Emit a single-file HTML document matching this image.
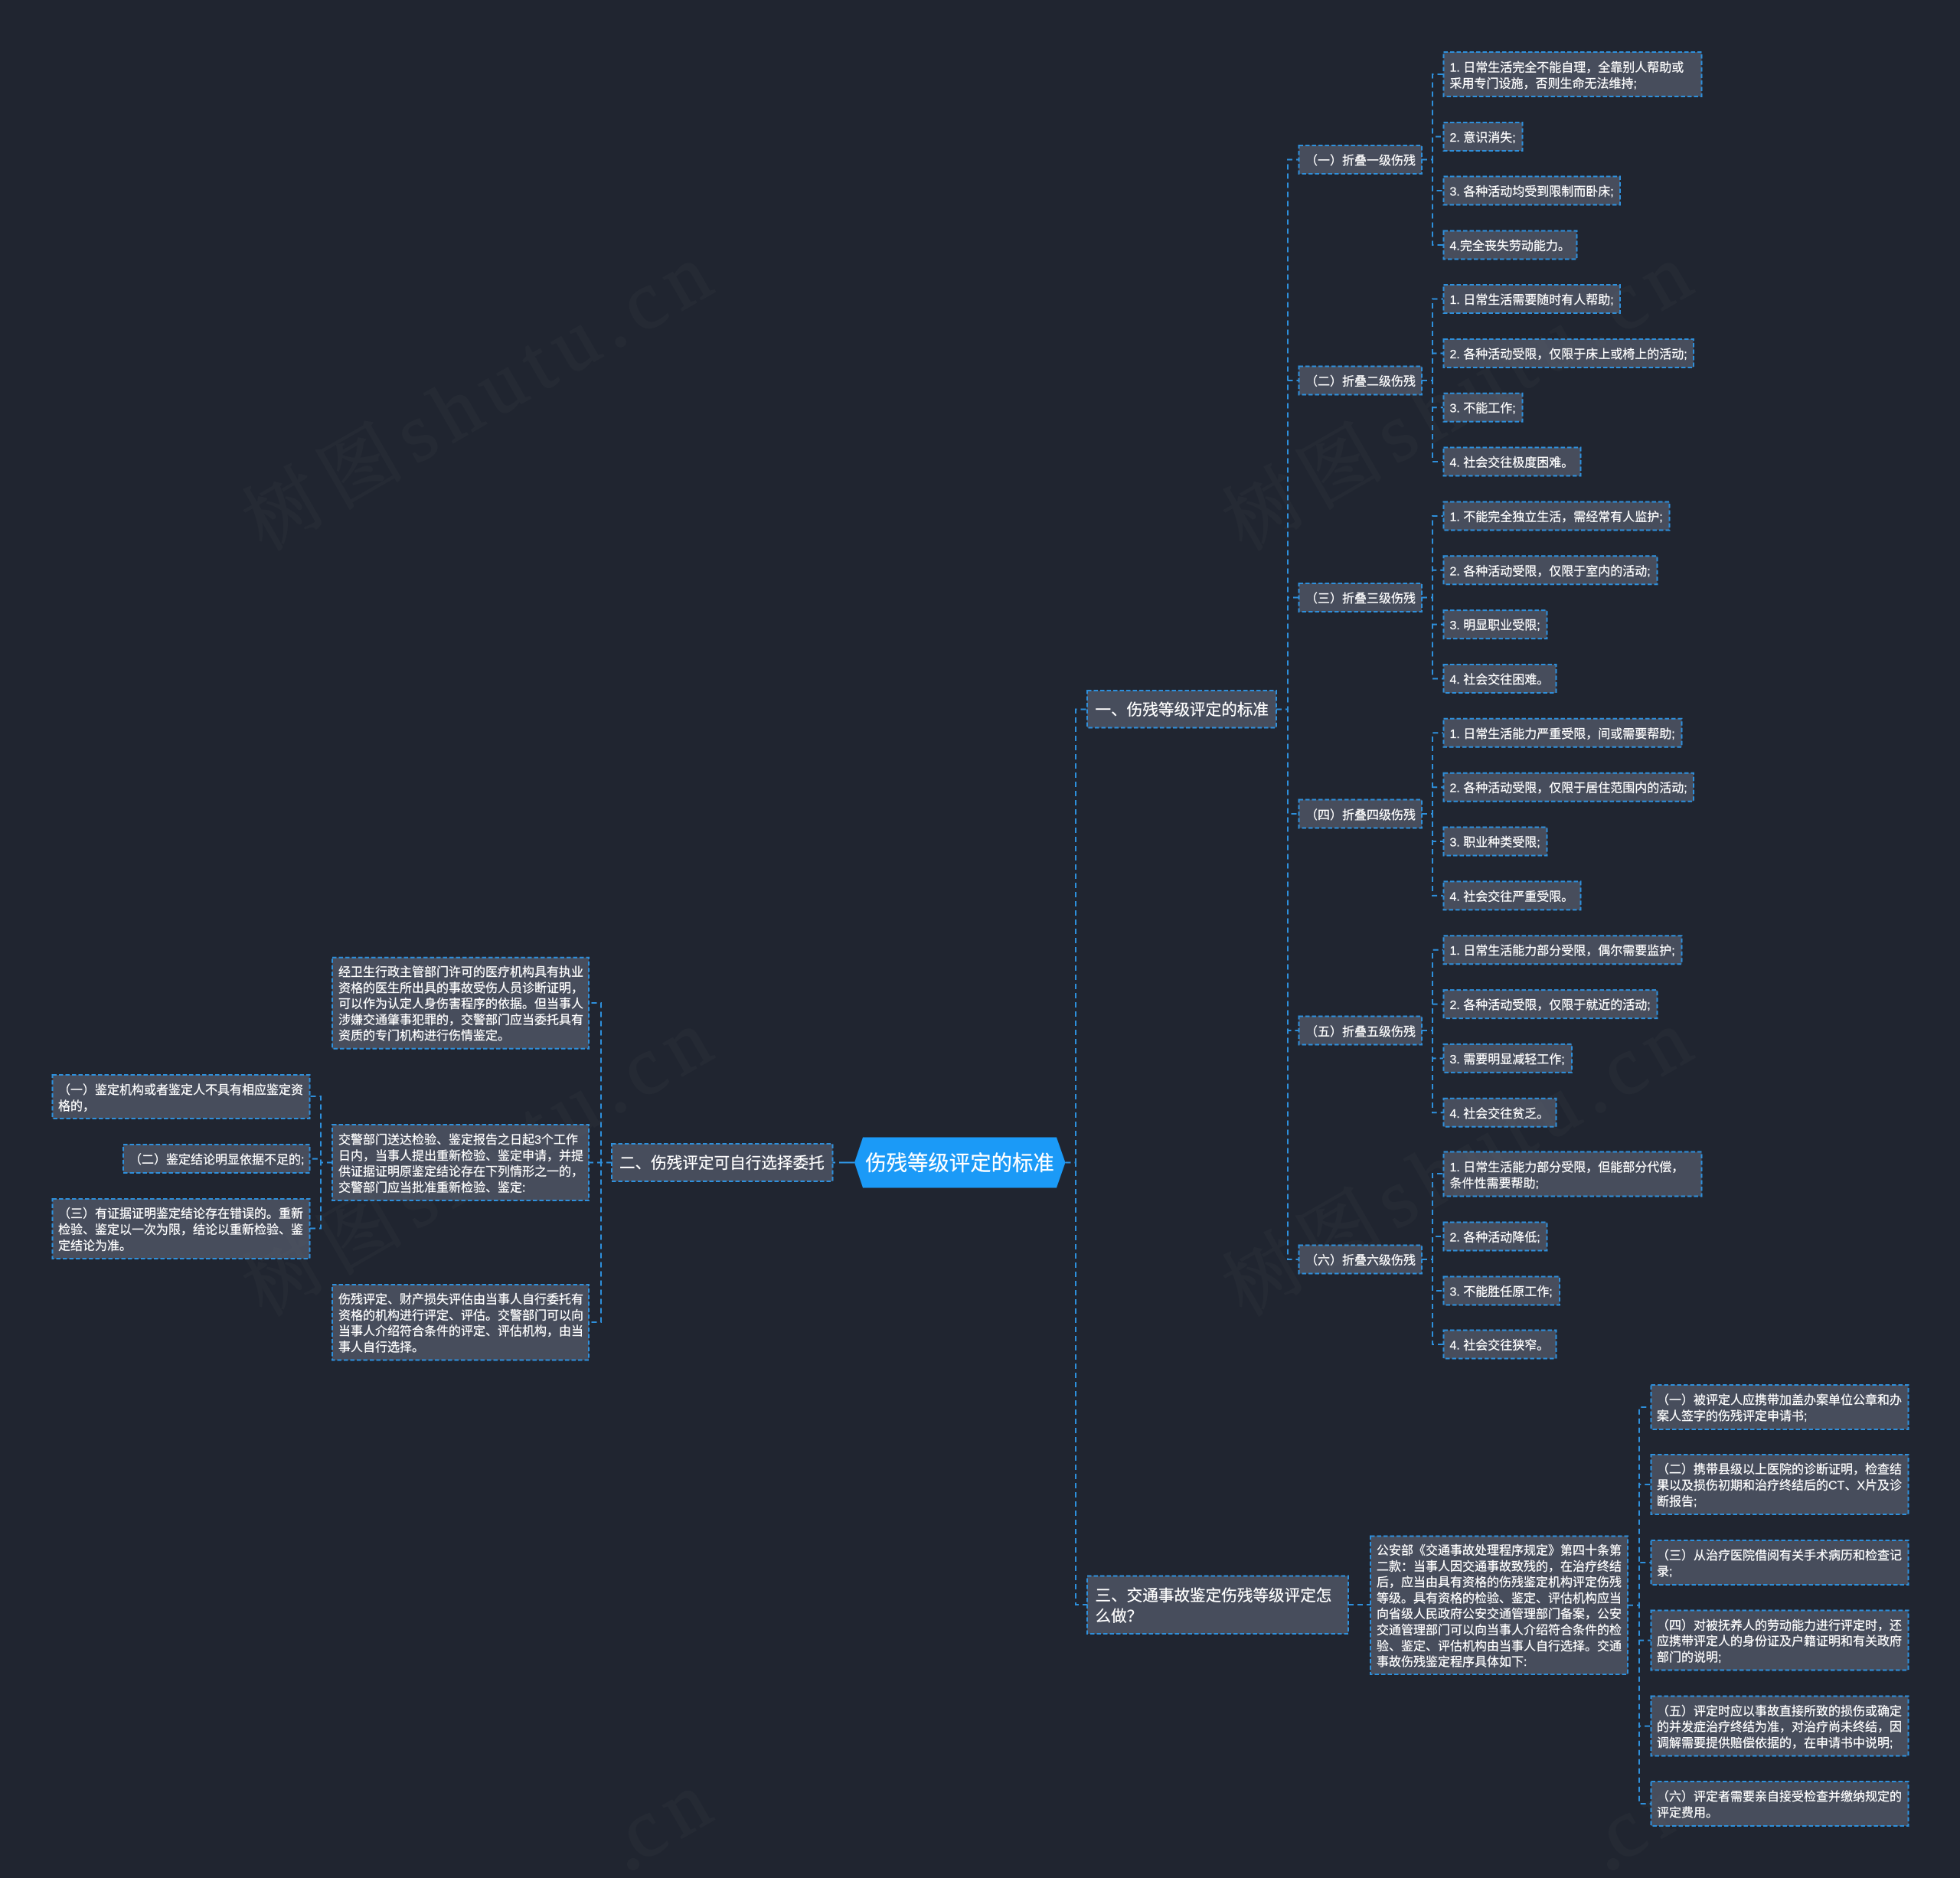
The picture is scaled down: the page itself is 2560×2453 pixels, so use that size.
<!DOCTYPE html>
<html lang="zh-CN"><head><meta charset="utf-8"><title>伤残等级评定的标准</title>
<style>
html,body{margin:0;padding:0;background:#202530;width:2560px;height:2453px;overflow:hidden}
svg{display:block}
text{font-family:"Liberation Sans","Noto Sans CJK SC",sans-serif;fill:#fff;stroke:#fff;stroke-width:.2px;font-size:16px}
text.l1{font-size:20.6px}
.b rect{fill:#474d5c;stroke:#2e90dc;stroke-width:2;stroke-dasharray:5.5 3}
.c{fill:none;stroke:#2e90dc;stroke-width:2;stroke-dasharray:7 5}
text.w{font-family:"Liberation Serif","Noto Serif CJK SC",serif;font-size:108px;letter-spacing:13px;fill:#6e6e6e;stroke:#6e6e6e;stroke-width:1.5px;opacity:.07}
text.w tspan{font-size:100px;letter-spacing:14px}
</style></head><body>
<svg xmlns="http://www.w3.org/2000/svg" width="2560" height="2453" viewBox="0 0 2560 2453">
<rect width="2560" height="2453" fill="#202530"/>
<path class="c" d="M1391.5 1518.5H1405V926.5H1420M1391.5 1518.5H1405V2096H1420
M1667 926.5H1682V208.5H1696M1667 926.5H1682V497H1696M1667 926.5H1682V780.5H1696M1667 926.5H1682V1063H1696M1667 926.5H1682V1346H1696M1667 926.5H1682V1645H1696
M1857 208.5H1871V97H1885M1857 208.5H1871V178.5H1885M1857 208.5H1871V249H1885M1857 208.5H1871V320H1885
M1857 497H1871V390.5H1885M1857 497H1871V461.5H1885M1857 497H1871V532.2H1885M1857 497H1871V603H1885
M1857 780.5H1871V674H1885M1857 780.5H1871V744.8H1885M1857 780.5H1871V815.6H1885M1857 780.5H1871V886.5H1885
M1857 1063H1871V957.3H1885M1857 1063H1871V1028.2H1885M1857 1063H1871V1099H1885M1857 1063H1871V1169.9H1885
M1857 1346H1871V1240.7H1885M1857 1346H1871V1311.6H1885M1857 1346H1871V1382.4H1885M1857 1346H1871V1453.3H1885
M1857 1645H1871V1533H1885M1857 1645H1871V1615H1885M1857 1645H1871V1686H1885M1857 1645H1871V1756H1885
M799 1518.5H785V1310H769M799 1518.5H769M799 1518.5H785V1727H769
M434 1518.5H419V1432H404.6M434 1518.5H419V1513.6H404.6M434 1518.5H419V1604.5H404.6
M1761 2096H1790
M2126 2096.7H2141V1838H2156M2126 2096.7H2141V1939H2156M2126 2096.7H2141V2041H2156M2126 2096.7H2141V2142.6H2156M2126 2096.7H2141V2254.6H2156M2126 2096.7H2141V2356H2156"/>
<path d="M1116 1518.5H1096" stroke="#2f97e6" stroke-width="2" fill="none"/>
<path d="M1087.5 1518.5H1091" stroke="#2f97e6" stroke-width="2" fill="none"/>

<polygon points="1116,1518.5 1127,1485.5 1380,1485.5 1391.5,1518.5 1380,1551.5 1127,1551.5" fill="#1b9af7"/>
<text x="1253.5" y="1528.5" text-anchor="middle" style="font-size:27.4px">伤残等级评定的标准</text>

<g class="b">
<!-- L1 -->
<rect x="1420" y="902" width="247" height="48.5"/>
<rect x="799" y="1494" width="288.5" height="49"/>
<rect x="1420" y="2058.5" width="341" height="75.5"/>
<!-- L2 -->
<rect x="1696.5" y="190" width="160.5" height="37"/>
<rect x="1696.5" y="478.5" width="160.5" height="37"/>
<rect x="1696.5" y="762" width="160.5" height="37"/>
<rect x="1696.5" y="1044.5" width="160.5" height="37"/>
<rect x="1696.5" y="1327.5" width="160.5" height="37"/>
<rect x="1696.5" y="1626.5" width="160.5" height="37"/>
<!-- G1 -->
<rect x="1885.5" y="68" width="337" height="58"/>
<rect x="1885.5" y="160" width="103" height="37"/>
<rect x="1885.5" y="230.5" width="230.5" height="37"/>
<rect x="1885.5" y="301.5" width="174" height="37"/>
<!-- G2 -->
<rect x="1885.5" y="372" width="230.5" height="37"/>
<rect x="1885.5" y="443" width="326.5" height="37"/>
<rect x="1885.5" y="513.7" width="103" height="37"/>
<rect x="1885.5" y="584.5" width="179" height="37"/>
<!-- G3 -->
<rect x="1885.5" y="655.5" width="295" height="37"/>
<rect x="1885.5" y="726.3" width="279" height="37"/>
<rect x="1885.5" y="797.1" width="135" height="37"/>
<rect x="1885.5" y="868" width="147" height="37"/>
<!-- G4 -->
<rect x="1885.5" y="938.8" width="311" height="37"/>
<rect x="1885.5" y="1009.7" width="326.5" height="37"/>
<rect x="1885.5" y="1080.5" width="135" height="37"/>
<rect x="1885.5" y="1151.4" width="179" height="37"/>
<!-- G5 -->
<rect x="1885.5" y="1222.2" width="311" height="37"/>
<rect x="1885.5" y="1293.1" width="279" height="37"/>
<rect x="1885.5" y="1363.9" width="167.5" height="37"/>
<rect x="1885.5" y="1434.8" width="147" height="37"/>
<!-- G6 -->
<rect x="1885.5" y="1504.5" width="337" height="58"/>
<rect x="1885.5" y="1596.5" width="135" height="37"/>
<rect x="1885.5" y="1667.5" width="151.5" height="37"/>
<rect x="1885.5" y="1737.5" width="147" height="37"/>
<!-- left -->
<rect x="434" y="1250.7" width="335" height="119"/>
<rect x="434" y="1469" width="335" height="99"/>
<rect x="434" y="1678" width="335" height="98.5"/>
<rect x="68.5" y="1404" width="336" height="57"/>
<rect x="161" y="1495" width="243.5" height="37"/>
<rect x="68.5" y="1566" width="336" height="78"/>
<!-- bottom -->
<rect x="1790" y="2006.5" width="336" height="180.5"/>
<rect x="2156.5" y="1809" width="336" height="58"/>
<rect x="2156.5" y="1900" width="336" height="78"/>
<rect x="2156.5" y="2012" width="336" height="58"/>
<rect x="2156.5" y="2103.5" width="336" height="78"/>
<rect x="2156.5" y="2215.5" width="336" height="78"/>
<rect x="2156.5" y="2327" width="336" height="58"/>
</g>

<text class="l1" x="1430.5" y="934">一、伤残等级评定的标准</text>
<text class="l1" x="809" y="1526">二、伤残评定可自行选择委托</text>
<text class="l1" x="1430.5" y="2091">三、交通事故鉴定伤残等级评定怎</text>
<text class="l1" x="1430.5" y="2118">么做？</text>

<text x="1705" y="215">（一）折叠一级伤残</text>
<text x="1705" y="503.5">（二）折叠二级伤残</text>
<text x="1705" y="787">（三）折叠三级伤残</text>
<text x="1705" y="1070">（四）折叠四级伤残</text>
<text x="1705" y="1353">（五）折叠五级伤残</text>
<text x="1705" y="1651.5">（六）折叠六级伤残</text>

<text x="1893.5" y="93.5">1. 日常生活完全不能自理，全靠别人帮助或</text>
<text x="1893.5" y="114.5">采用专门设施，否则生命无法维持;</text>
<text x="1893.5" y="185">2. 意识消失;</text>
<text x="1893.5" y="255.5">3. 各种活动均受到限制而卧床;</text>
<text x="1893.5" y="326.5">4.完全丧失劳动能力。</text>

<text x="1893.5" y="397">1. 日常生活需要随时有人帮助;</text>
<text x="1893.5" y="468">2. 各种活动受限，仅限于床上或椅上的活动;</text>
<text x="1893.5" y="538.7">3. 不能工作;</text>
<text x="1893.5" y="609.5">4. 社会交往极度困难。</text>

<text x="1893.5" y="680.5">1. 不能完全独立生活，需经常有人监护;</text>
<text x="1893.5" y="751.3">2. 各种活动受限，仅限于室内的活动;</text>
<text x="1893.5" y="822.1">3. 明显职业受限;</text>
<text x="1893.5" y="893">4. 社会交往困难。</text>

<text x="1893.5" y="963.8">1. 日常生活能力严重受限，间或需要帮助;</text>
<text x="1893.5" y="1034.7">2. 各种活动受限，仅限于居住范围内的活动;</text>
<text x="1893.5" y="1105.5">3. 职业种类受限;</text>
<text x="1893.5" y="1176.4">4. 社会交往严重受限。</text>

<text x="1893.5" y="1247.2">1. 日常生活能力部分受限，偶尔需要监护;</text>
<text x="1893.5" y="1318.1">2. 各种活动受限，仅限于就近的活动;</text>
<text x="1893.5" y="1388.9">3. 需要明显减轻工作;</text>
<text x="1893.5" y="1459.8">4. 社会交往贫乏。</text>

<text x="1893.5" y="1530">1. 日常生活能力部分受限，但能部分代偿，</text>
<text x="1893.5" y="1551">条件性需要帮助;</text>
<text x="1893.5" y="1621.5">2. 各种活动降低;</text>
<text x="1893.5" y="1692.5">3. 不能胜任原工作;</text>
<text x="1893.5" y="1762.5">4. 社会交往狭窄。</text>

<text x="442" y="1275">经卫生行政主管部门许可的医疗机构具有执业</text>
<text x="442" y="1295.8">资格的医生所出具的事故受伤人员诊断证明，</text>
<text x="442" y="1316.6">可以作为认定人身伤害程序的依据。但当事人</text>
<text x="442" y="1337.4">涉嫌交通肇事犯罪的，交警部门应当委托具有</text>
<text x="442" y="1358.2">资质的专门机构进行伤情鉴定。</text>

<text x="442" y="1494">交警部门送达检验、鉴定报告之日起3个工作</text>
<text x="442" y="1514.8">日内，当事人提出重新检验、鉴定申请，并提</text>
<text x="442" y="1535.6">供证据证明原鉴定结论存在下列情形之一的，</text>
<text x="442" y="1556.4">交警部门应当批准重新检验、鉴定:</text>

<text x="442" y="1702.5">伤残评定、财产损失评估由当事人自行委托有</text>
<text x="442" y="1723.3">资格的机构进行评定、评估。交警部门可以向</text>
<text x="442" y="1744.1">当事人介绍符合条件的评定、评估机构，由当</text>
<text x="442" y="1764.9">事人自行选择。</text>

<text x="76" y="1429">（一）鉴定机构或者鉴定人不具有相应鉴定资</text>
<text x="76" y="1450">格的，</text>
<text x="169" y="1520">（二）鉴定结论明显依据不足的;</text>
<text x="76" y="1590.7">（三）有证据证明鉴定结论存在错误的。重新</text>
<text x="76" y="1611.5">检验、鉴定以一次为限，结论以重新检验、鉴</text>
<text x="76" y="1632.3">定结论为准。</text>

<text x="1798" y="2030.5">公安部《交通事故处理程序规定》第四十条第</text>
<text x="1798" y="2051.3">二款：当事人因交通事故致残的，在治疗终结</text>
<text x="1798" y="2072.1">后，应当由具有资格的伤残鉴定机构评定伤残</text>
<text x="1798" y="2092.9">等级。具有资格的检验、鉴定、评估机构应当</text>
<text x="1798" y="2113.7">向省级人民政府公安交通管理部门备案，公安</text>
<text x="1798" y="2134.5">交通管理部门可以向当事人介绍符合条件的检</text>
<text x="1798" y="2155.3">验、鉴定、评估机构由当事人自行选择。交通</text>
<text x="1798" y="2176.1">事故伤残鉴定程序具体如下:</text>

<text x="2164" y="1834">（一）被评定人应携带加盖办案单位公章和办</text>
<text x="2164" y="1855">案人签字的伤残评定申请书;</text>
<text x="2164" y="1924.7">（二）携带县级以上医院的诊断证明，检查结</text>
<text x="2164" y="1945.5">果以及损伤初期和治疗终结后的CT、X片及诊</text>
<text x="2164" y="1966.3">断报告;</text>
<text x="2164" y="2037">（三）从治疗医院借阅有关手术病历和检查记</text>
<text x="2164" y="2058">录;</text>
<text x="2164" y="2128.3">（四）对被抚养人的劳动能力进行评定时，还</text>
<text x="2164" y="2149.1">应携带评定人的身份证及户籍证明和有关政府</text>
<text x="2164" y="2169.9">部门的说明;</text>
<text x="2164" y="2240.3">（五）评定时应以事故直接所致的损伤或确定</text>
<text x="2164" y="2261.1">的并发症治疗终结为准，对治疗尚未终结，因</text>
<text x="2164" y="2281.9">调解需要提供赔偿依据的，在申请书中说明;</text>
<text x="2164" y="2352">（六）评定者需要亲自接受检查并缴纳规定的</text>
<text x="2164" y="2373">评定费用。</text>

<text class="w" transform="translate(345 721) rotate(-30)"><tspan>树图</tspan>shutu.cn</text>
<text class="w" transform="translate(1625 721) rotate(-30)"><tspan>树图</tspan>shutu.cn</text>
<text class="w" transform="translate(345 1721) rotate(-30)"><tspan>树图</tspan>shutu.cn</text>
<text class="w" transform="translate(1625 1721) rotate(-30)"><tspan>树图</tspan>shutu.cn</text>
<text class="w" transform="translate(835.5 2433) rotate(-30)">cn</text>
<text class="w" transform="translate(2115.5 2433) rotate(-30)">cn</text>
<circle cx="827" cy="2435" r="8" fill="#6e6e6e" opacity=".07"/>
<circle cx="2107" cy="2435" r="8" fill="#6e6e6e" opacity=".07"/>
</svg>
</body></html>
